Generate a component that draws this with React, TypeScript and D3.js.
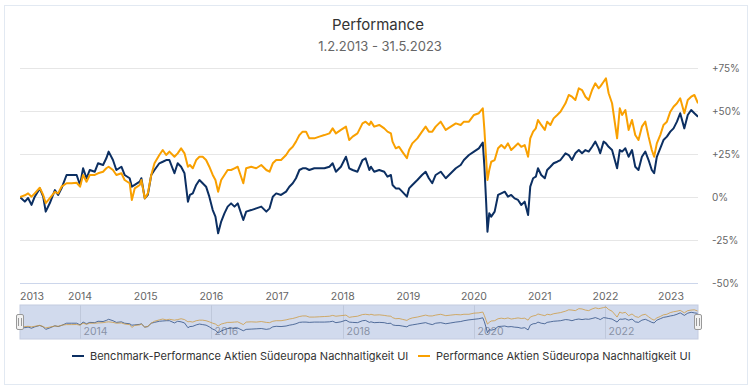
import React, { useEffect, useRef } from "react";
import * as d3 from "d3";

// performance in % since 1.2.2013
const dates = [
  "2013-02-01", "2013-02-28", "2013-03-18", "2013-04-06", "2013-04-24", "2013-05-22", "2013-06-10", "2013-06-24",
  "2013-07-17", "2013-08-14", "2013-09-01", "2013-09-20", "2013-10-18", "2013-11-15", "2013-12-13", "2014-01-01",
  "2014-01-18", "2014-02-06", "2014-02-24", "2014-03-24", "2014-04-11", "2014-05-09", "2014-05-27", "2014-06-09",
  "2014-07-03", "2014-07-22", "2014-08-19", "2014-09-06", "2014-10-04", "2014-10-16", "2014-11-01", "2014-11-29",
  "2014-12-08", "2014-12-27", "2015-01-13", "2015-02-01", "2015-02-19", "2015-03-18", "2015-04-06", "2015-04-25",
  "2015-05-13", "2015-06-10", "2015-06-28", "2015-07-17", "2015-08-05", "2015-08-24", "2015-09-04", "2015-09-20",
  "2015-10-09", "2015-10-27", "2015-11-14", "2015-12-03", "2015-12-21", "2016-01-09", "2016-01-24", "2016-02-08",
  "2016-02-25", "2016-03-14", "2016-04-01", "2016-04-20", "2016-05-09", "2016-05-27", "2016-06-27", "2016-07-13",
  "2016-08-10", "2016-09-07", "2016-10-05", "2016-11-02", "2016-11-20", "2016-12-08", "2016-12-27", "2017-01-23",
  "2017-02-20", "2017-03-10", "2017-03-29", "2017-04-16", "2017-05-05", "2017-05-23", "2017-06-11", "2017-06-29",
  "2017-07-27", "2017-08-24", "2017-09-21", "2017-10-19", "2017-11-06", "2017-11-24", "2017-12-22", "2018-01-19",
  "2018-02-06", "2018-02-25", "2018-03-24", "2018-04-21", "2018-05-08", "2018-05-29", "2018-06-07", "2018-06-25",
  "2018-07-23", "2018-08-20", "2018-09-07", "2018-09-26", "2018-10-05", "2018-10-23", "2018-11-10", "2018-11-28",
  "2018-12-24", "2019-01-05", "2019-01-23", "2019-02-20", "2019-03-18", "2019-04-07", "2019-04-25", "2019-05-14",
  "2019-06-02", "2019-06-30", "2019-07-28", "2019-08-25", "2019-09-22", "2019-10-19", "2019-11-06", "2019-12-04",
  "2020-01-01", "2020-01-28", "2020-02-19", "2020-02-28", "2020-03-09", "2020-03-16", "2020-03-26", "2020-04-06",
  "2020-04-25", "2020-05-14", "2020-06-01", "2020-06-20", "2020-07-08", "2020-07-26", "2020-08-14", "2020-09-02",
  "2020-09-20", "2020-10-09", "2020-10-28", "2020-11-09", "2020-11-25", "2020-12-10", "2020-12-22", "2021-01-09",
  "2021-01-29", "2021-02-11", "2021-03-01", "2021-03-19", "2021-04-08", "2021-04-26", "2021-05-24", "2021-06-11",
  "2021-06-29", "2021-07-18", "2021-08-06", "2021-08-24", "2021-09-12", "2021-09-30", "2021-10-19", "2021-11-06",
  "2021-11-24", "2021-12-03", "2021-12-22", "2022-01-04", "2022-01-19", "2022-02-07", "2022-03-07", "2022-03-22",
  "2022-04-04", "2022-04-22", "2022-05-10", "2022-05-29", "2022-06-16", "2022-07-04", "2022-07-23", "2022-08-11",
  "2022-08-29", "2022-09-16", "2022-09-29", "2022-10-14", "2022-11-02", "2022-11-20", "2022-12-09", "2022-12-28",
  "2023-01-15", "2023-02-03", "2023-02-21", "2023-03-16", "2023-04-04", "2023-04-23", "2023-05-11", "2023-05-31",
];

const benchmark = [
  0, -2.7, -0.6, -4.6, 0.2, 5.0, 0.2, -8.5,
  -3.5, 4.0, 1.2, 5.0, 12.8, 12.8, 12.8, 7.0,
  16.7, 10.9, 15.7, 14.7, 19.6, 18.6, 22.5, 26.4,
  21.5, 15.7, 17.6, 12.8, 10.9, 6.0, 7.0, 8.9,
  10.9, -0.8, 1.2, 12.8, 15.7, 19.6, 20.5, 21.5,
  21.5, 13.8, 19.6, 17.6, 13.8, -2.7, 1.2, 2.1,
  7.0, 9.9, 8.0, 6.0, 0.2, -7.6, -11.4, -21.1,
  -14.3, -9.5, -5.6, -3.7, -5.6, -3.7, -13.4, -8.5,
  -7.6, -6.6, -5.6, -8.5, -6.6, 0.2, 2.1, 1.2,
  3.1, 6.0, 8.0, 10.9, 15.7, 16.7, 16.7, 15.7,
  16.7, 16.7, 16.7, 17.6, 19.6, 14.7, 17.6, 23.4,
  16.7, 15.7, 14.7, 21.5, 22.5, 15.7, 17.6, 14.7,
  15.7, 14.7, 11.8, 12.8, 7.0, 5.0, 5.0, 3.1,
  0.2, 5.0, 7.0, 9.9, 12.8, 14.7, 10.9, 8.0,
  12.8, 14.7, 10.9, 13.8, 16.7, 18.6, 21.5, 24.4,
  26.4, 28.3, 31.6, 17.6, -3.7, -20.2, -9.5, -11.4,
  -8.5, 1.2, 2.1, 3.1, 0.2, 1.2, -0.8, -1.7,
  -4.6, -2.7, -10.5, 6.0, 10.9, 11.8, 16.7, 12.8,
  10.9, 15.7, 17.6, 19.6, 20.5, 21.5, 25.4, 24.4,
  21.5, 25.4, 27.3, 25.4, 27.3, 26.4, 29.2, 32.2,
  28.3, 25.4, 32.2, 31.2, 29.2, 27.3, 16.7, 27.3,
  26.4, 28.3, 23.4, 27.3, 17.6, 15.7, 23.4, 26.4,
  21.5, 15.7, 13.8, 23.4, 28.3, 33.1, 35.1, 38.0,
  39.9, 43.8, 48.7, 39.9, 47.7, 50.6, 48.7, 46.7,
];

const fund = [
  0, 1.0, 2.1, 0.2, 2.1, 5.4, 1.2, -3.5,
  -0.6, 3.0, 2.1, 6.0, 8.0, 8.0, 8.3, 6.0,
  12.8, 8.9, 12.8, 12.8, 13.8, 14.7, 16.7, 17.6,
  15.7, 12.8, 13.8, 9.9, 8.0, -1.7, 5.0, 7.0,
  9.9, -0.8, 2.1, 12.8, 19.6, 24.4, 27.3, 24.4,
  26.4, 23.4, 25.4, 28.3, 25.4, 17.6, 18.6, 16.7,
  21.5, 23.4, 23.4, 21.5, 17.6, 12.8, 9.9, 3.1,
  9.9, 12.8, 15.7, 15.7, 16.7, 17.6, 8.0, 16.7,
  17.6, 16.7, 18.6, 15.7, 14.7, 19.6, 21.5, 21.5,
  24.4, 27.3, 29.2, 32.2, 36.0, 38.0, 38.0, 34.1,
  34.1, 35.1, 36.0, 37.0, 39.9, 37.0, 39.0, 40.9,
  33.1, 35.1, 37.0, 42.8, 43.8, 41.9, 43.8, 40.9,
  41.9, 39.9, 38.0, 37.0, 32.2, 28.3, 29.2, 26.4,
  22.5, 27.3, 31.2, 34.1, 38.0, 40.9, 38.0, 38.0,
  40.9, 43.8, 39.0, 40.9, 42.8, 41.9, 43.8, 43.8,
  47.7, 48.7, 51.6, 39.0, 21.5, 9.9, 15.7, 20.5,
  21.5, 28.3, 30.2, 28.3, 31.2, 27.3, 29.2, 31.2,
  29.2, 30.2, 23.4, 34.1, 38.0, 39.9, 44.8, 41.9,
  39.0, 43.8, 41.9, 45.7, 47.7, 49.6, 54.5, 59.3,
  58.3, 56.4, 63.2, 62.2, 58.3, 56.4, 62.2, 66.1,
  63.2, 64.2, 67.0, 69.0, 60.3, 54.5, 34.1, 51.6,
  47.7, 50.6, 39.0, 44.8, 36.0, 33.1, 40.9, 43.8,
  35.1, 27.3, 23.4, 31.2, 36.0, 41.9, 43.8, 49.6,
  52.5, 54.5, 57.4, 48.7, 56.4, 58.3, 59.3, 54.5,
];

const yTicks = [-50, -25, 0, 25, 50, 75];
const xYears = [2013, 2014, 2015, 2016, 2017, 2018, 2019, 2020, 2021, 2022, 2023];
const navYears = [2014, 2016, 2018, 2020, 2022];

const seriesNames = [
  "Benchmark-Performance Aktien Südeuropa Nachhaltigkeit UI",
  "Performance Aktien Südeuropa Nachhaltigkeit UI",
];
const seriesColors = ["#0c2f62", "#f9a000"];

const W = 756;
const H = 391;
const FONT = "Inter, 'Noto Sans', sans-serif";

type Pt = { date: Date; value: number };

const App = () => {
  const ref = useRef<SVGSVGElement>(null);

  useEffect(() => {
    const svg = d3.select(ref.current);
    svg.selectAll("*").remove();

    const parse = d3.timeParse("%Y-%m-%d");
    const series: Pt[][] = [benchmark, fund].map((vals) =>
      vals.map((v, i) => ({ date: parse(dates[i]) as Date, value: v }))
    );

    const left = 20;
    const right = 698;
    const top = 68;
    const bottom = 283;

    const x = d3
      .scaleTime()
      .domain([parse("2013-02-01") as Date, parse("2023-05-31") as Date])
      .range([left, right]);
    const y = d3.scaleLinear().domain([-50, 75]).range([bottom, top]);

    // card
    svg
      .append("rect")
      .attr("x", 4.5)
      .attr("y", 5.5)
      .attr("width", 743)
      .attr("height", 379)
      .attr("fill", "#fff")
      .attr("stroke", "#e2e9f2");

    // titles
    svg
      .append("text")
      .attr("x", 378)
      .attr("y", 30)
      .attr("text-anchor", "middle")
      .style("font-size", "15px")
      .style("fill", "#333")
      .text("Performance");
    svg
      .append("text")
      .attr("x", 380)
      .attr("y", 51)
      .attr("text-anchor", "middle")
      .style("font-size", "13px")
      .style("fill", "#666")
      .text("1.2.2013 - 31.5.2023");

    // grid + y labels
    const grid = svg.append("g");
    yTicks.forEach((t) => {
      grid
        .append("line")
        .attr("x1", left)
        .attr("x2", right)
        .attr("y1", y(t) + 0.5)
        .attr("y2", y(t) + 0.5)
        .attr("stroke", t === -50 ? "#ccd6eb" : "#e6e6e6");
      grid
        .append("text")
        .attr("x", 712)
        .attr("y", y(t) + 4)
        .style("font-size", "10px")
        .style("fill", "#666")
        .text(t > 0 ? `+${t}%` : `${t}%`);
    });

    // x labels
    xYears.forEach((yr) => {
      let cx = x(new Date(yr, 0, 1));
      if (cx < left + 12) cx = left + 12;
      svg
        .append("text")
        .attr("x", cx)
        .attr("y", 300)
        .attr("text-anchor", "middle")
        .style("font-size", "10.5px")
        .style("fill", "#666")
        .text(String(yr));
    });

    // main lines
    svg
      .append("clipPath")
      .attr("id", "plot-clip")
      .append("rect")
      .attr("x", left)
      .attr("y", top - 10)
      .attr("width", right - left)
      .attr("height", bottom - top + 10);

    const line = d3
      .line<Pt>()
      .x((d) => x(d.date))
      .y((d) => y(d.value));

    series.forEach((s, i) => {
      svg
        .append("path")
        .datum(s)
        .attr("d", line)
        .attr("clip-path", "url(#plot-clip)")
        .attr("fill", "none")
        .attr("stroke", seriesColors[i])
        .attr("stroke-width", 2)
        .attr("stroke-linejoin", "round");
    });

    // navigator
    const nTop = 305;
    const nBottom = 339;
    const all = benchmark.concat(fund);
    const ny = d3
      .scaleLinear()
      .domain([d3.min(all) as number, d3.max(all) as number])
      .range([nBottom - 6, nTop + 2]);
    const nav = svg.append("g");
    navYears.forEach((yr) => {
      const gx = Math.round(x(new Date(yr, 0, 1))) + 0.5;
      nav
        .append("line")
        .attr("x1", gx)
        .attr("x2", gx)
        .attr("y1", nTop)
        .attr("y2", nBottom)
        .attr("stroke", "#e6e6e6");
      nav
        .append("text")
        .attr("x", gx + 3)
        .attr("y", nBottom - 4)
        .style("font-size", "10.5px")
        .style("fill", "#999")
        .text(String(yr));
    });
    const navLine = d3
      .line<Pt>()
      .x((d) => x(d.date))
      .y((d) => ny(d.value));
    series.forEach((s, i) => {
      nav
        .append("path")
        .datum(s)
        .attr("d", navLine)
        .attr("fill", "none")
        .attr("stroke", seriesColors[i])
        .attr("stroke-opacity", 0.75)
        .attr("stroke-width", 1);
    });
    nav
      .append("rect")
      .attr("x", left)
      .attr("y", nTop)
      .attr("width", right - left)
      .attr("height", nBottom - nTop)
      .attr("fill", "rgba(102,133,194,0.3)")
      .attr("stroke", "#c4cce0");

    [left, right].forEach((hx) => {
      const h = nav.append("g").attr("transform", `translate(${hx}, ${(nTop + nBottom) / 2})`);
      h.append("rect")
        .attr("x", -3.5)
        .attr("y", -7.5)
        .attr("width", 7)
        .attr("height", 15)
        .attr("rx", 1.5)
        .attr("fill", "#f2f2f2")
        .attr("stroke", "#999");
      [-1, 1].forEach((o) =>
        h
          .append("line")
          .attr("x1", o + 0.5 * o)
          .attr("x2", o + 0.5 * o)
          .attr("y1", -4)
          .attr("y2", 4)
          .attr("stroke", "#999")
      );
    });

    // legend
    const legendX = [72, 418];
    seriesNames.forEach((name, i) => {
      const g = svg.append("g").attr("transform", `translate(${legendX[i]}, 356)`);
      g.append("line")
        .attr("x1", 0)
        .attr("x2", 12)
        .attr("y1", 0)
        .attr("y2", 0)
        .attr("stroke", seriesColors[i])
        .attr("stroke-width", 2);
      g.append("text")
        .attr("x", 18)
        .attr("y", 4)
        .style("font-size", "11px")
        .style("fill", "#333")
        .text(name);
    });
  }, []);

  return (
    <div style={{ position: "absolute", left: 0, top: 0 }}>
      <svg ref={ref} width={W} height={H} style={{ display: "block", fontFamily: FONT }} />
    </div>
  );
};

export default App;
